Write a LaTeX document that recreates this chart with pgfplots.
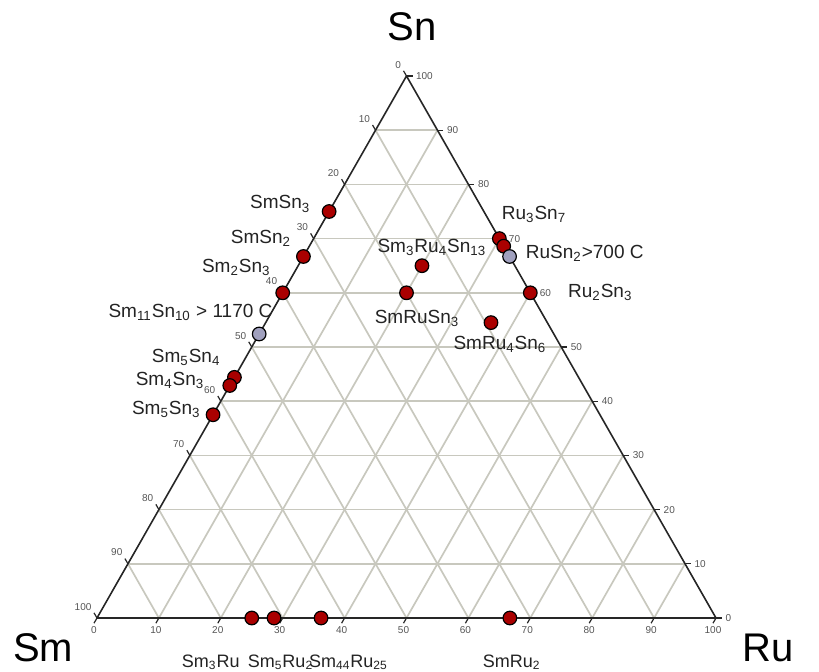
\documentclass[border=0pt]{standalone}
\usepackage{pgfplots}
\pgfplotsset{compat=1.18}
\usepackage{pgfplotstable}
\usepackage{fontspec}
\setmainfont{Liberation Sans}
\definecolor{gridc}{RGB}{200,200,190}
\definecolor{ptred}{RGB}{170,0,0}
\definecolor{ptgrey}{RGB}{160,160,190}
\definecolor{tickc}{RGB}{85,85,85}
\definecolor{txt}{RGB}{35,35,35}
\newcommand{\s}[1]{\textsubscript{#1}}
\tikzset{
  lbl/.style={font=\fontsize{9.5}{11}\selectfont, text=txt, inner sep=0pt},
  blbl/.style={font=\fontsize{9}{11}\selectfont, text=txt, inner sep=0pt},
  tlab/.style={font=\fontsize{5}{6}\selectfont, text=tickc},
}

% compositions in percent (Sm = 100 - Ru - Sn)
\pgfplotstableread{
Ru Sn
0 75
0 66.7
0 60
0 44.4
0 42.9
0 37.5
30 70
31.4 68.6
40 60
20 65
20 60
36.4 54.5
25 0
28.6 0
36.2 0
66.7 0
}\redpts
\pgfplotstableread{
Ru Sn
0 52.4
33.3 66.7
}\greypts

\begin{document}
\begin{tikzpicture}
\useasboundingbox (-48.5pt,-26.5pt) rectangle (361pt,309pt);
\begin{axis}[
  at={(0,0)}, anchor=south west,
  scale only axis, width=309.5pt, height=271pt,
  xmin=0, xmax=100, ymin=0, ymax=100,
  axis lines=none, clip=false,
]
% grid
\pgfplotsinvokeforeach{10,20,...,90}{
  \draw[gridc, line width=0.85pt] (axis cs:{#1/2},#1) -- (axis cs:{100-#1/2},#1);
  \draw[gridc, line width=0.85pt] (axis cs:#1,0) -- (axis cs:{#1+(100-#1)/2},{100-#1});
  \draw[gridc, line width=0.85pt] (axis cs:{100-#1},0) -- (axis cs:{(100-#1)/2},{100-#1});
}
% triangle
\addplot[black!85, line width=0.8pt, line join=round] coordinates {(0,0) (100,0) (50,100) (0,0)};
% ticks and tick labels
\pgfplotsinvokeforeach{0,10,...,100}{
  \draw[black!85, line width=0.6pt] (axis cs:#1,0) -- ++(240:3pt) node[tlab, anchor=north, inner sep=1.5pt]{#1};
  \draw[black!85, line width=0.6pt] (axis cs:{(100-#1)/2},{100-#1}) -- ++(120:3pt) node[tlab, anchor=south east, inner sep=1pt]{#1};
  \draw[black!85, line width=0.6pt] (axis cs:{100-#1/2},#1) -- ++(0:3pt) node[tlab, anchor=west, inner sep=1.5pt]{#1};
}
% data points
\addplot[only marks, mark=*, mark size=3.4pt, mark options={fill=ptred, draw=black, line width=0.6pt}]
  table[x expr=\thisrow{Ru}+0.5*\thisrow{Sn}, y=Sn] {\redpts};
\addplot[only marks, mark=*, mark size=3.4pt, mark options={fill=ptgrey, draw=black, line width=0.6pt}]
  table[x expr=\thisrow{Ru}+0.5*\thisrow{Sn}, y=Sn] {\greypts};
% corner labels
\node[font=\fontsize{20}{24}\selectfont, anchor=base, inner sep=0pt] at (axis cs:50.9,106.6) {Sn};
\node[font=\fontsize{20}{24}\selectfont, anchor=base, inner sep=0pt] at (axis cs:-8.7,-8.1) {Sm};
\node[font=\fontsize{20}{24}\selectfont, anchor=base, inner sep=0pt] at (axis cs:108.4,-8.1) {Ru};
% phase labels
\node[lbl] at (axis cs:29.6,76.4) {SmSn\s{3}};
\node[lbl] at (axis cs:26.5,70.1) {SmSn\s{2}};
\node[lbl] at (axis cs:22.5,64.7) {Sm\s{2}Sn\s{3}};
\node[lbl] at (axis cs:15.1,56.3) {Sm\s{11}Sn\s{10} > 1170 C};
\node[lbl] at (axis cs:14.4,48.0) {Sm\s{5}Sn\s{4}};
\node[lbl] at (axis cs:11.8,43.9) {Sm\s{4}Sn\s{3}};
\node[lbl] at (axis cs:11.2,38.4) {Sm\s{5}Sn\s{3}};
\node[lbl] at (axis cs:70.6,74.5) {Ru\s{3}Sn\s{7}};
\node[lbl] at (axis cs:78.8,67.3) {RuSn\s{2}>700 C};
\node[lbl] at (axis cs:81.3,60.0) {Ru\s{2}Sn\s{3}};
\node[lbl] at (axis cs:54.1,68.4) {Sm\s{3}Ru\s{4}Sn\s{13}};
\node[lbl] at (axis cs:51.7,55.3) {SmRuSn\s{3}};
\node[lbl] at (axis cs:65.1,50.5) {SmRu\s{4}Sn\s{6}};
\node[blbl, anchor=east] at (axis cs:23.1,-8.1) {Sm\s{3}Ru};
\node[blbl, anchor=west] at (axis cs:24.3,-8.1) {Sm\s{5}Ru\s{2}};
\node[blbl, anchor=west] at (axis cs:34.2,-8.1) {Sm\s{44}Ru\s{25}};
\node[blbl] at (axis cs:67.0,-8.1) {SmRu\s{2}};
\end{axis}
\end{tikzpicture}
\end{document}
